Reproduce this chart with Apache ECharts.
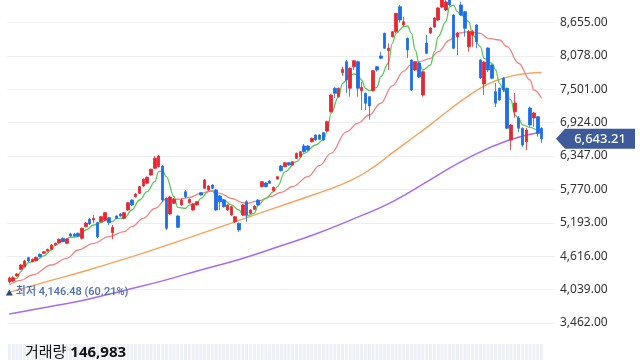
<!DOCTYPE html>
<html><head><meta charset="utf-8">
<script src="https://cdn.jsdelivr.net/npm/echarts@6/dist/echarts.min.js"></script>
<style>html,body{margin:0;padding:0;background:#fff}#c{width:640px;height:360px}</style>
</head><body><div id="c"></div>
<script>
// [open, close, low, high]
const candles = [
[4176,4240,4146.48,4265],[4188,4245,4170,4270],[4274,4309,4260,4325],[4390,4464,4375,4480],[4435,4533,4420,4550],
[4590,4533,4515,4605],[4521,4563,4510,4575],[4538,4597,4525,4610],[4649,4608,4595,4665],[4666,4694,4655,4705],
[4706,4735,4695,4745],[4735,4810,4725,4825],[4810,4839,4800,4850],[4849,4908,4840,4920],[4925,4867,4855,4940],
[4839,4913,4825,4925],[5000,4965,4945,5020],[5000,4965,4950,5015],[5012,4965,4950,5025],[4925,5098,4905,5110],
[5126,5190,5115,5205],[5254,5172,5160,5276],[5241,5267,5190,5328],[5195,4953,4925,5210],[5212,5298,5200,5310],
[5241,5368,5225,5380],[5281,5195,5155,5298],[5022,5115,4908,5155],[5311,5271,5255,5325],[5345,5310,5295,5360],
[5271,5368,5255,5380],[5414,5540,5400,5555],[5587,5501,5480,5600],[5644,5691,5630,5705],[5703,5817,5690,5830],
[5829,5945,5815,5960],[5876,5979,5860,5995],[6019,6117,6005,6130],[6135,6307,6120,6347],[6162,6347,6150,6364],
[6174,5587,5558,6190],[5616,5098,5069,5630],[5345,5639,5330,5660],[5530,5599,5515,5615],[5311,5115,5103,5325],
[5501,5587,5490,5616],[5730,5644,5622,5760],[5540,5599,5525,5612],[5414,5518,5400,5530],[5501,5558,5490,5570],
[5713,5673,5660,5725],[5789,5933,5775,5950],[5760,5829,5745,5840],[5846,5789,5775,5860],[5760,5414,5397,5775],
[5656,5558,5414,5670],[5587,5471,5455,5600],[5414,5501,5400,5515],[5328,5471,5315,5485],[5212,5299,5190,5310],
[5185,5069,5034,5195],[5328,5501,5315,5515],[5558,5328,5212,5587],[5357,5414,5345,5425],[5426,5483,5415,5495],
[5587,5501,5490,5600],[5817,5903,5805,5915],[5881,5817,5805,5895],[5915,5876,5865,5930],[5748,5806,5735,5820],
[5950,5990,5940,6000],[6174,6093,6080,6190],[6162,6231,6150,6245],[6231,6192,6180,6245],[6192,6249,6180,6260],
[6307,6394,6295,6405],[6335,6421,6320,6435],[6520,6421,6405,6554],[6520,6451,6440,6535],[6594,6653,6580,6665],
[6710,6624,6610,6725],[6710,6636,6620,6725],[6750,6624,6610,6765],[6779,6940,6765,6955],[7112,7401,7095,7415],
[7517,7430,7349,7539],[7372,7517,7355,7530],[7786,7845,7729,7890],[7976,7660,7435,8006],[7517,7862,7372,7875],
[7890,7993,7833,8005],[7976,7517,7372,7995],[7475,7534,7142,7631],[7430,7258,7142,7445],[7372,7211,6975,7385],
[7475,7821,7460,7835],[7890,7833,7803,7902],[8075,8035,8018,8149],[8467,8208,8195,8477],[8166,8208,7833,8294],
[8408,8494,8395,8505],[8494,8812,8472,8817],[8926,8697,8650,8956],[8610,8667,8581,8754],[8380,8178,8040,8395],
[8006,7487,7470,8020],[7833,7976,7815,7990],[7954,7712,7695,7970],[7401,7803,7372,7820],[8299,8121,8105,8437],
[8472,8558,8455,8570],[8576,8731,8560,8745],[8697,8904,8680,8920],[8921,9042,8905,9100],[8869,9008,8850,9080],
[9076,8956,8940,9120],[8783,8208,8190,8800],[8403,8472,8092,8494],[8956,8783,8770,9013],[8840,8553,8408,8855],
[8235,8494,8149,8524],[8437,8494,8235,8524],[8610,8322,8208,8625],[8006,7695,7680,8020],[7591,7971,7401,7985],
[8213,7833,7798,8225],[7919,7689,7675,7930],[7458,7258,7194,7608],[7517,7315,7300,7530],[7689,7487,7453,7712],
[7517,6826,6810,7530],[6624,6883,6451,6895],[7112,7263,7010,7435],[7004,6826,6762,7038],[6826,6537,6503,6840],
[6594,6796,6451,6831],[7176,6883,6853,7199],[7004,7090,6853,7112],[7026,6739,6681,7040],[6826,6643.21,6572,6840]
];
// moving averages: [candle index, value]
const ma5 = [[0,4158],[2,4234],[3,4348],[4,4435],[5,4504],[7,4550],[9,4620],[11,4723],[12,4810],[14,4884],[16,4943],[18,4953],[20,5069],[22,5155],[24,5195],[25,5229],[27,5212],[28,5271],[30,5271],[32,5414],[34,5587],[36,5730],[38,5903],[39,6076],[40,6093],[41,5990],[43,5644],[44,5460],[46,5443],[47,5500],[49,5530],[50,5616],[52,5730],[53,5740],[54,5673],[56,5587],[58,5501],[60,5414],[61,5328],[62,5311],[64,5357],[65,5500],[67,5616],[69,5730],[70,5817],[72,6076],[75,6249],[77,6394],[80,6537],[82,6624],[83,6767],[84,7085],[86,7372],[87,7603],[89,7746],[90,7764],[91,7750],[92,7660],[93,7517],[94,7475],[96,7534],[97,7717],[99,7949],[100,8294],[101,8467],[103,8581],[104,8593],[105,8467],[106,8178],[107,7949],[108,7833],[110,7919],[111,8149],[112,8408],[114,8667],[115,8926],[116,8955],[117,8840],[118,8783],[120,8667],[121,8437],[123,8235],[124,8035],[126,7948],[127,7833],[128,7603],[129,7487],[131,7315],[132,7055],[133,6998],[134,6883],[136,6840],[138,6796],[139,6775]];
const ma20 = [[0,4119],[3,4200],[6,4291],[11,4464],[15,4580],[18,4723],[22,4839],[26,4953],[30,5040],[32,5126],[35,5271],[38,5440],[41,5600],[44,5600],[47,5630],[50,5703],[53,5748],[55,5703],[58,5616],[61,5540],[62,5530],[65,5570],[68,5640],[71,5720],[74,5820],[78,5990],[81,6180],[84,6394],[88,6765],[91,6912],[94,7055],[97,7258],[100,7560],[103,7815],[105,7930],[107,7976],[110,8035],[112,8149],[115,8351],[117,8467],[120,8494],[123,8467],[125,8380],[128,8351],[130,8235],[133,7949],[136,7660],[137,7487],[139,7344]];
const ma60 = [[0,3990],[10,4180],[20,4365],[30,4565],[40,4780],[50,5005],[60,5235],[70,5465],[80,5690],[85,5810],[90,5950],[95,6150],[100,6400],[105,6645],[110,6890],[115,7150],[120,7390],[125,7590],[130,7710],[135,7770],[139,7790]];
const ma120 = [[0,3618],[10,3738],[20,3865],[30,4025],[40,4190],[50,4378],[60,4560],[70,4775],[80,5000],[90,5265],[100,5555],[110,5940],[120,6320],[130,6610],[139,6760]];
const volumes = [312000,298000,275000,341000,322000,287000,265000,254000,301000,279000,
268000,315000,292000,330000,286000,277000,249000,261000,238000,356000,
318000,344000,296000,402000,333000,308000,287000,365000,274000,259000,
281000,372000,326000,298000,339000,351000,322000,364000,418000,436000,
512000,548000,463000,381000,427000,356000,312000,289000,301000,276000,
295000,362000,318000,287000,374000,332000,305000,284000,311000,296000,
352000,338000,279000,263000,288000,269000,354000,302000,285000,276000,
318000,331000,296000,288000,305000,342000,327000,316000,298000,336000,
309000,294000,301000,367000,458000,412000,385000,426000,437000,398000,
376000,415000,362000,388000,401000,428000,352000,337000,384000,346000,
371000,412000,396000,358000,382000,447000,368000,352000,404000,361000,
339000,357000,374000,386000,412000,429000,446000,351000,398000,377000,
362000,326000,348000,417000,392000,368000,344000,371000,352000,336000,
423000,389000,356000,334000,362000,348000,312000,297000,281000,146983];
const yTickStart = 3462, yTickStep = 577, yTop = 9042;
const lowValue = 4146.48;
const lastPrice = 6643.21;
const lastVolume = 146983;
const emptySlots = 3;
const categories = candles.map((_, i) => 'D' + (i + 1)).concat(new Array(emptySlots).fill(''));

const FONT = "'Noto Sans','Noto Sans CJK KR',sans-serif";
const fmt2 = v => v.toLocaleString('en-US', {minimumFractionDigits: 2, maximumFractionDigits: 2});
const pct = ((lastPrice / lowValue - 1) * 100).toFixed(2);

const chart = echarts.init(document.getElementById('c'), null, {renderer: 'canvas'});
const lineS = (data, color, w, sm, mono) => ({
  type: 'line', data, smooth: sm, smoothMonotone: mono, showSymbol: false, symbol: 'none',
  lineStyle: {color, width: w}, xAxisIndex: 0, yAxisIndex: 0, silent: true, z: 3
});
chart.setOption({
  animation: false,
  grid: [
    {left: 7.4, right: 85, top: 0, height: 323},
    {left: 7.4, right: 85, top: 344, height: 30}
  ],
  xAxis: [
    {type: 'category', data: categories, boundaryGap: true, gridIndex: 0,
     axisLine: {show: false}, axisTick: {show: false}, axisLabel: {show: false}, splitLine: {show: false}},
    {type: 'category', data: categories, boundaryGap: true, gridIndex: 1,
     axisLine: {show: false}, axisTick: {show: false}, axisLabel: {show: false}, splitLine: {show: false}}
  ],
  yAxis: [
    {type: 'value', position: 'right', min: yTickStart, max: yTop, interval: yTickStep, gridIndex: 0,
     axisLine: {show: false}, axisTick: {show: false},
     axisLabel: {show: true, showMaxLabel: false, margin: 5, color: '#333', fontSize: 12, fontFamily: FONT,
       formatter: v => fmt2(v)},
     splitLine: {show: true, showMaxLine: false, lineStyle: {color: '#eeeff2', width: 1}}},
    {type: 'value', gridIndex: 1, min: 0, max: 140000, show: false, splitLine: {show: false}}
  ],
  series: [
    {type: 'bar', xAxisIndex: 1, yAxisIndex: 1, data: volumes, barWidth: 3, silent: true,
     itemStyle: {color: '#eef0f7'}},
    {type: 'candlestick', data: candles, xAxisIndex: 0, yAxisIndex: 0, barWidth: 3, z: 4,
     itemStyle: {color: '#ec2430', color0: '#1c6ee8', borderColor: '#ec2430', borderColor0: '#1c6ee8', borderWidth: 0.8},
     markPoint: {
       symbol: 'triangle', symbolSize: [7, 6], symbolOffset: [0, 9],
       itemStyle: {color: '#34486f'},
       label: {show: true, position: 'right', distance: 3, color: '#4d6db5', fontSize: 11, fontWeight: 500,
         fontFamily: "Roboto,'Noto Sans CJK KR',sans-serif",
         formatter: '최저 ' + fmt2(lowValue) + ' (' + pct + '%)'},
       data: [{coord: [0, lowValue], value: lowValue}]
     }},
    lineS(ma120, '#a56cf2', 1.5, 0.5, null),
    lineS(ma60, '#f7a45a', 1.4, 0.5, null),
    lineS(ma20, '#f58585', 1.3, 0.4, 'x'),
    lineS(ma5, '#5cc95c', 1.3, 0.4, 'x')
  ]
});
const yp = chart.convertToPixel({yAxisIndex: 0}, lastPrice);
chart.setOption({
  graphic: [
    {type: 'polygon', shape: {points: [[556, yp], [565, yp - 10], [635, yp - 10], [635, yp + 10], [565, yp + 10]]},
     style: {fill: '#3d5b9b'}, z: 100},
    {type: 'text', x: 600, y: yp, z: 101,
     style: {text: fmt2(lastPrice), fill: '#fff', font: '500 13px ' + FONT, align: 'center', verticalAlign: 'middle'}},
    {type: 'text', x: 25, y: 353, z: 101,
     style: {text: '{a|거래량 }{b|' + lastVolume.toLocaleString('en-US') + '}', verticalAlign: 'middle',
       rich: {a: {fontSize: 15, fill: '#111', fontFamily: FONT}, b: {fontSize: 15, fontWeight: 'bold', fill: '#111', fontFamily: FONT}}}}
  ]
});
</script></body></html>
